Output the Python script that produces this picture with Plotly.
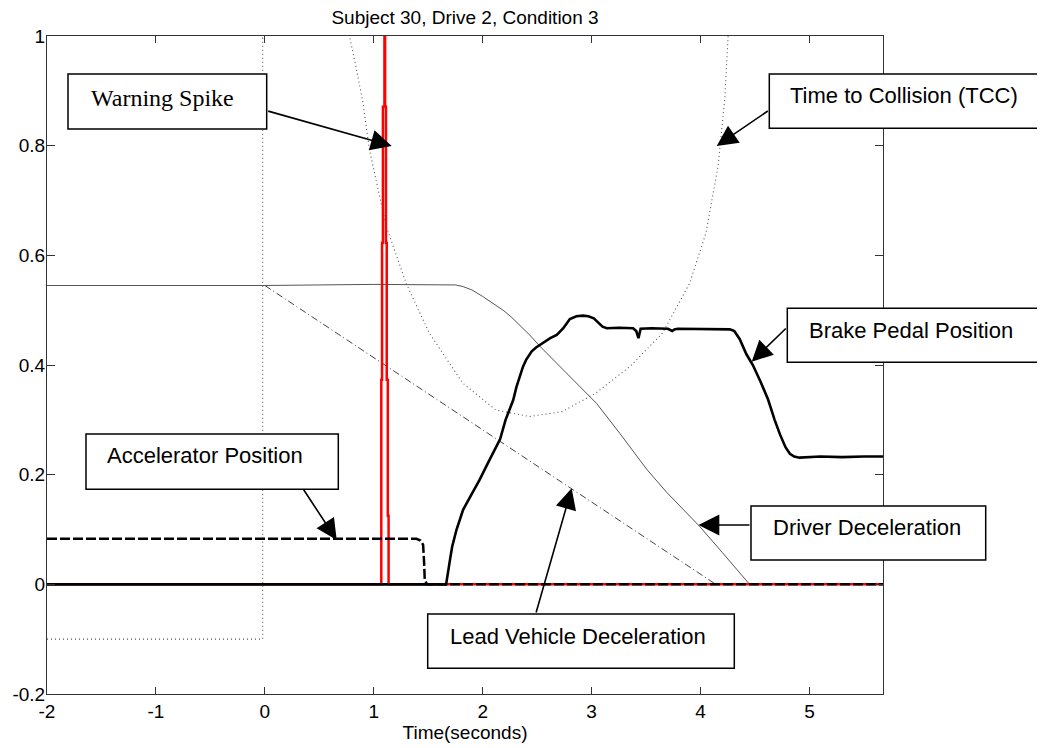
import plotly.graph_objects as go

# ---------------- data ----------------
title_text = "Subject 30, Drive 2, Condition 3"
x_label = "Time(seconds)"
x_ticks = [-2, -1, 0, 1, 2, 3, 4, 5]
x_tick_labels = ["-2", "-1", "0", "1", "2", "3", "4", "5"]
y_ticks = [-0.2, 0, 0.2, 0.4, 0.6, 0.8, 1]
y_tick_labels = ["-0.2", "0", "0.2", "0.4", "0.6", "0.8", "1"]

brake_t = [-2.0, 1.664, 1.70, 1.72, 1.76, 1.82, 1.90, 1.97, 2.05, 2.12, 2.16, 2.21, 2.28, 2.31,
           2.37, 2.40, 2.45, 2.49, 2.55, 2.62, 2.68, 2.74, 2.80, 2.86, 2.92, 2.97, 3.02, 3.06,
           3.10, 3.14, 3.25, 3.38, 3.41, 3.43, 3.45, 3.55, 3.70, 3.74, 3.76, 3.79, 4.00, 4.15,
           4.27, 4.31, 4.36, 4.42, 4.48, 4.55, 4.62, 4.68, 4.73, 4.78, 4.82, 4.86, 4.91, 5.10,
           5.30, 5.50, 5.675]
brake_v = [0.0, 0.0, 0.045, 0.069, 0.10, 0.136, 0.165, 0.19, 0.222, 0.251, 0.265, 0.30, 0.336, 0.36,
           0.397, 0.41, 0.425, 0.432, 0.44, 0.449, 0.455, 0.467, 0.484, 0.489, 0.490, 0.489, 0.485, 0.478,
           0.47, 0.467, 0.468, 0.467, 0.462, 0.449, 0.466, 0.467, 0.466, 0.462, 0.465, 0.466, 0.466, 0.466,
           0.465, 0.462, 0.447, 0.42, 0.40, 0.37, 0.337, 0.30, 0.273, 0.25, 0.238, 0.233, 0.231, 0.233,
           0.232, 0.233, 0.233]

accel_t = [-2.0, 1.392, 1.429, 1.453, 1.462, 1.468, 1.489, 5.675]
accel_v = [0.083, 0.083, 0.080, 0.072, 0.040, 0.008, 0.0, 0.0]

driver_t = [-2.0, 0.0, 1.0, 1.6, 1.75, 1.82, 1.90, 2.00, 2.10, 2.187, 2.26, 2.34, 2.43, 2.526,
            2.63, 2.74, 3.045, 3.26, 3.505, 3.688, 3.99, 4.20, 4.45, 5.675]
driver_v = [0.545, 0.545, 0.547, 0.547, 0.546, 0.543, 0.537, 0.525, 0.512, 0.50, 0.488, 0.473, 0.455, 0.434,
            0.413, 0.391, 0.33, 0.275, 0.21, 0.168, 0.106, 0.058, 0.0, 0.0]

lead_t = [0.0, 4.14, 5.675]
lead_v = [0.545, 0.0, 0.0]

tcc_t = [-2.0, -0.02, -0.02, 0.5, 0.7, 0.777, 0.835, 0.896, 0.96, 1.114, 1.297, 1.51, 1.817, 2.12,
         2.43, 2.73, 3.04, 3.35, 3.65, 3.90, 4.05, 4.16, 4.222, 4.238, 4.253, 4.28]
tcc_v = [-0.1, -0.1, 1.5, 1.5, 1.15, 1.0, 0.945, 0.884, 0.793, 0.653, 0.549, 0.458, 0.367, 0.318,
         0.306, 0.315, 0.349, 0.397, 0.458, 0.549, 0.641, 0.762, 0.884, 0.945, 1.0, 1.3]

warn_t = [-2.0, 1.069, 1.069, 1.076, 1.076, 1.084, 1.084, 1.098, 1.098, 1.104, 1.104, 1.112, 1.112,
          1.119, 1.119, 1.129, 1.129, 1.136, 1.136, 5.675]
warn_v = [0.0, 0.0, 0.373, 0.373, 0.623, 0.623, 0.871, 0.871, 1.3, 1.3, 0.871, 0.871, 0.623,
          0.623, 0.373, 0.373, 0.125, 0.125, 0.0, 0.0]

# callout boxes (page pixels): text, box, text left, text centre y, arrow tail, arrow tip
callouts = [
    dict(text="Warning Spike", serif=True, box=(68, 74, 266.7, 129), tl=89, tc=98.3,
         tail=(266.7, 110.7), tip=(391.7, 146)),
    dict(text="Time to Collision (TCC)", serif=False, box=(769.3, 74, 1041, 128.3), tl=788, tc=95.3,
         tail=(769.3, 110), tip=(716.7, 146)),
    dict(text="Brake Pedal Position", serif=False, box=(787.3, 308.3, 1041, 362.3), tl=806.7, tc=330,
         tail=(787.3, 327), tip=(751.7, 361.7)),
    dict(text="Driver Deceleration", serif=False, box=(751, 506, 985.7, 560), tl=771, tc=527.7,
         tail=(751, 525), tip=(698.5, 525)),
    dict(text="Accelerator Position", serif=False, box=(86, 434, 338.3, 489.3), tl=105, tc=455.8,
         tail=(302.7, 488.3), tip=(336.7, 540)),
    dict(text="Lead Vehicle Deceleration", serif=False, box=(427.7, 614, 734.3, 668.3), tl=447.7, tc=636.2,
         tail=(535.7, 614), tip=(571.7, 488.3)),
]

# ---------------- layout geometry ----------------
OFF = 8                      # default page body margin
W, H = 1045 - OFF, 748 - OFF
PLOT_L, PLOT_R, PLOT_T, PLOT_B = 47, 883, 36, 694   # page pixels
ML, MR = PLOT_L - OFF, W - (PLOT_R - OFF)
MT, MB = PLOT_T - OFF, H - (PLOT_B - OFF)
X_RANGE = [-2.0, 5.675]
Y_RANGE = [-0.2, 1.0]
PW = PLOT_R - PLOT_L
PH = PLOT_B - PLOT_T


def px_x(px):
    return X_RANGE[0] + (px - PLOT_L) / PW * (X_RANGE[1] - X_RANGE[0])


def px_y(py):
    return Y_RANGE[1] - (py - PLOT_T) / PH * (Y_RANGE[1] - Y_RANGE[0])


def pap_x(px):
    return (px - PLOT_L) / PW


def pap_y(py):
    return (PLOT_B - py) / PH


SANS = "Liberation Sans, Arial, sans-serif"
SERIF = "Liberation Serif, Times New Roman, serif"
AX = "#333333"

fig = go.Figure()
fig.add_trace(go.Scatter(x=tcc_t, y=tcc_v, mode="lines", name="Time to Collision (TCC)",
                         line=dict(color="#555555", width=1.1, dash="1px,3px")))
fig.add_trace(go.Scatter(x=lead_t, y=lead_v, mode="lines", name="Lead Vehicle Deceleration",
                         line=dict(color="#444444", width=1, dash="7px,3px,1px,3px")))
fig.add_trace(go.Scatter(x=driver_t, y=driver_v, mode="lines", name="Driver Deceleration",
                         line=dict(color="#555555", width=1)))
fig.add_trace(go.Scatter(x=warn_t, y=warn_v, mode="lines", name="Warning",
                         line=dict(color="#ff0000", width=2.5)))
fig.add_trace(go.Scatter(x=accel_t, y=accel_v, mode="lines", name="Accelerator Position",
                         line=dict(color="black", width=2.5, dash="10px,3px")))
fig.add_trace(go.Scatter(x=brake_t, y=brake_v, mode="lines", name="Brake Pedal Position",
                         line=dict(color="black", width=2.6)))

shapes = []
annotations = []
for c in callouts:
    x0, y0, x1, y1 = c["box"]
    shapes.append(dict(type="rect", xref="paper", yref="paper", layer="above",
                       x0=pap_x(x0), x1=pap_x(x1), y0=pap_y(y1), y1=pap_y(y0),
                       fillcolor="white", line=dict(color="black", width=1.5)))
    annotations.append(dict(xref="paper", yref="paper", x=pap_x(c["tl"]), y=pap_y(c["tc"]),
                            xanchor="left", yanchor="middle", showarrow=False, text=c["text"],
                            font=dict(family=SERIF if c["serif"] else SANS,
                                      size=24 if c["serif"] else 22, color="black")))
    tx, ty = c["tip"]
    sx, sy = c["tail"]
    annotations.append(dict(xref="x", yref="y", x=px_x(tx), y=px_y(ty), ax=sx - tx, ay=sy - ty,
                            axref="pixel", ayref="pixel", text="", showarrow=True,
                            arrowhead=2, arrowsize=2.6, arrowwidth=1.6, arrowcolor="black",
                            standoff=0))

fig.update_layout(
    width=W, height=H,
    margin=dict(l=ML, r=MR, t=MT, b=MB, autoexpand=False),
    paper_bgcolor="white", plot_bgcolor="white",
    showlegend=False,
    title=dict(text=title_text, x=(465 - OFF) / W, xanchor="center", xref="container",
               y=1 - (17.5 - OFF) / H, yanchor="middle", yref="container",
               font=dict(family=SANS, size=19, color="black")),
    xaxis=dict(range=X_RANGE, tickvals=x_ticks, ticktext=x_tick_labels, ticks="inside", ticklen=7,
               tickcolor=AX, showline=True, linecolor=AX, linewidth=1, mirror="ticks",
               showgrid=False, zeroline=False,
               tickfont=dict(family=SANS, size=19, color="black"),
               title=dict(text=x_label, font=dict(family=SANS, size=19, color="black"), standoff=0)),
    yaxis=dict(range=Y_RANGE, tickvals=y_ticks, ticktext=y_tick_labels, ticks="inside", ticklen=8,
               tickcolor=AX, showline=True, linecolor=AX, linewidth=1, mirror="ticks",
               showgrid=False, zeroline=False, ticklabelstandoff=-3,
               tickfont=dict(family=SANS, size=19, color="black")),
    shapes=shapes,
    annotations=annotations,
)

fig.write_html("out.html")
